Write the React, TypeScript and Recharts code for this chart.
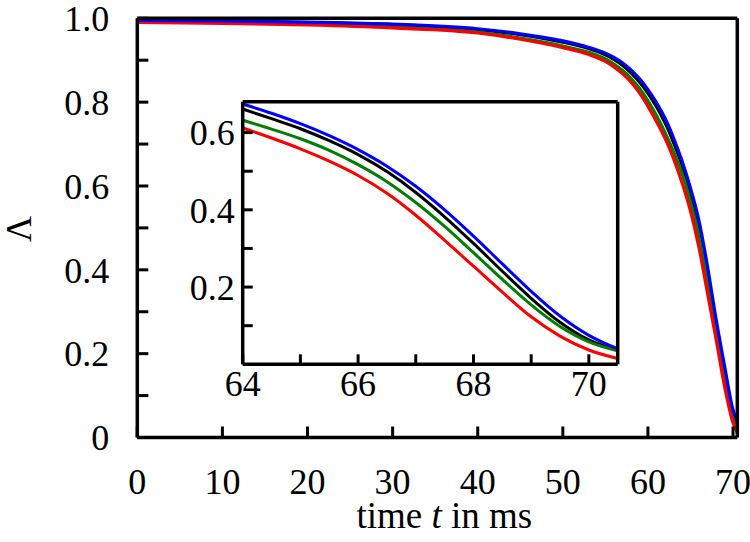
import React from 'react';
import { LineChart, Line, XAxis, YAxis } from 'recharts';

// main panel: time samples in ms and Λ per curve
const times = [0, 10, 20, 30, 40, 45, 50, 53, 55, 56, 57, 58, 59, 60, 61, 62, 63, 64, 65, 66, 67, 68, 69, 70, 70.5];
const blueVals = [0.995, 0.994, 0.991, 0.986, 0.975, 0.963, 0.946, 0.931, 0.917, 0.907, 0.894, 0.877, 0.856, 0.830, 0.799, 0.762, 0.715, 0.660, 0.595, 0.517, 0.408, 0.283, 0.171, 0.066, 0.040];
const blackVals = [0.994, 0.993, 0.990, 0.985, 0.973, 0.961, 0.943, 0.928, 0.913, 0.902, 0.888, 0.870, 0.848, 0.821, 0.789, 0.751, 0.704, 0.650, 0.584, 0.503, 0.395, 0.270, 0.160, 0.060, 0.035];
const greenVals = [0.992, 0.990, 0.986, 0.979, 0.967, 0.953, 0.934, 0.919, 0.903, 0.891, 0.876, 0.857, 0.833, 0.803, 0.768, 0.728, 0.682, 0.630, 0.562, 0.480, 0.370, 0.255, 0.143, 0.050, 0.030];
const redVals = [0.990, 0.988, 0.984, 0.977, 0.965, 0.950, 0.930, 0.914, 0.897, 0.884, 0.868, 0.848, 0.822, 0.790, 0.754, 0.714, 0.666, 0.608, 0.540, 0.453, 0.344, 0.235, 0.122, 0.035, 0.012];

// inset: zoom on the last milliseconds
const insetTimes = [64, 64.5, 65, 65.5, 66, 66.5, 67, 67.5, 68, 68.5, 69, 69.5, 70, 70.5];
const insetBlue = [0.674, 0.650, 0.623, 0.592, 0.556, 0.513, 0.461, 0.400, 0.332, 0.260, 0.189, 0.125, 0.075, 0.040];
const insetBlack = [0.661, 0.636, 0.610, 0.579, 0.543, 0.499, 0.445, 0.382, 0.313, 0.241, 0.171, 0.109, 0.063, 0.036];
const insetGreen = [0.632, 0.609, 0.584, 0.554, 0.517, 0.473, 0.419, 0.357, 0.289, 0.220, 0.154, 0.098, 0.058, 0.035];
const insetRed = [0.612, 0.586, 0.558, 0.526, 0.489, 0.443, 0.386, 0.321, 0.254, 0.187, 0.123, 0.073, 0.037, 0.015];

const xTicks = [0, 10, 20, 30, 40, 50, 60, 70];
const yTicks = [0, 0.1, 0.2, 0.3, 0.4, 0.5, 0.6, 0.7, 0.8, 0.9, 1.0];
const insetXTicks = [64, 65, 66, 67, 68, 69, 70];
const insetYTicks = [0.1, 0.2, 0.3, 0.4, 0.5, 0.6];

const data = times.map((t, i) => ({
  t,
  blue: blueVals[i],
  black: blackVals[i],
  green: greenVals[i],
  red: redVals[i],
}));

const insetData = insetTimes.map((t, i) => ({
  t,
  blue: insetBlue[i],
  black: insetBlack[i],
  green: insetGreen[i],
  red: insetRed[i],
}));

const FONT = '"Liberation Serif", "DejaVu Serif", serif';
const tickFont = { fill: '#000', fontSize: 36, fontFamily: FONT };
const axisLine = { stroke: '#000', strokeWidth: 3.5 };
const tickLine = { stroke: '#000', strokeWidth: 3 };

const evenTenth = (v: number) => Math.round(v * 10) % 2 === 0;
const mainYFmt = (v: number) => (!evenTenth(v) ? '' : v === 0 ? '0' : v.toFixed(1));
const insetYFmt = (v: number) => (evenTenth(v) ? v.toFixed(1) : '');
const insetXFmt = (v: number) => (v % 2 === 0 ? String(v) : '');

const series = [
  { key: 'black', color: '#000000' },
  { key: 'green', color: '#008000' },
  { key: 'red', color: '#ff0000' },
  { key: 'blue', color: '#0000ff' },
];

const W = 750;
const H = 542;

export default function App() {
  return (
    <div style={{ position: 'absolute', left: 0, top: 0, width: W, height: H, background: '#fff' }}>
      <div style={{ position: 'absolute', left: 0, top: 0 }}>
        <LineChart width={W} height={H} data={data} margin={{ top: 17.3, right: 11.7, bottom: 103.5, left: 136.3 }}>
          <XAxis
            xAxisId="b"
            dataKey="t"
            type="number"
            domain={[0, 70.5]}
            ticks={xTicks}
            interval={0}
            allowDataOverflow
            height={1}
            axisLine={axisLine}
            tickLine={tickLine}
            tickSize={-11}
            tickMargin={42}
            tick={tickFont}
            label={{
              content: ({ viewBox }: any) => (
                <text
                  x={viewBox.x + viewBox.width / 2 + 7}
                  y={viewBox.y + 90}
                  textAnchor="middle"
                  fontFamily={FONT}
                  fontSize={37}
                  fill="#000"
                >
                  time <tspan fontStyle="italic">t</tspan> in ms
                </text>
              ),
            }}
          />
          <XAxis
            xAxisId="t"
            orientation="top"
            dataKey="t"
            type="number"
            domain={[0, 70.5]}
            ticks={xTicks}
            interval={0}
            allowDataOverflow
            height={1}
            axisLine={axisLine}
            tickLine={tickLine}
            tickSize={-10}
            tick={false}
          />
          <YAxis
            yAxisId="l"
            type="number"
            domain={[0, 1]}
            ticks={yTicks}
            interval={0}
            width={1}
            axisLine={axisLine}
            tickLine={tickLine}
            tickSize={-11}
            tickMargin={39}
            tick={tickFont}
            tickFormatter={mainYFmt}
            label={{
              content: ({ viewBox }: any) => {
                const cx = viewBox.x - 117;
                const cy = viewBox.y + viewBox.height / 2 + 1;
                return (
                  <text
                    x={cx}
                    y={cy}
                    textAnchor="middle"
                    dominantBaseline="central"
                    transform={`rotate(-90 ${cx} ${cy})`}
                    fontFamily={FONT}
                    fontSize={36}
                    fill="#000"
                  >
                    Λ
                  </text>
                );
              },
            }}
          />
          <YAxis
            yAxisId="r"
            orientation="right"
            type="number"
            domain={[0, 1]}
            ticks={yTicks}
            interval={0}
            width={1}
            axisLine={axisLine}
            tickLine={tickLine}
            tickSize={-11}
            tick={false}
          />
          {series.map((s) => (
            <Line
              key={s.key}
              xAxisId="b"
              yAxisId="l"
              type="monotone"
              dataKey={s.key}
              stroke={s.color}
              strokeWidth={3.2}
              dot={false}
              activeDot={false}
              isAnimationActive={false}
            />
          ))}
        </LineChart>
      </div>
      <div style={{ position: 'absolute', left: 0, top: 0 }}>
        <LineChart width={W} height={H} data={insetData} margin={{ top: 100.7, right: 131.3, bottom: 176.7, left: 241.7 }}>
          <XAxis
            xAxisId="b"
            dataKey="t"
            type="number"
            domain={[64, 70.5]}
            ticks={insetXTicks}
            interval={0}
            allowDataOverflow
            height={1}
            axisLine={axisLine}
            tickLine={tickLine}
            tickSize={-10}
            tickMargin={16}
            tick={tickFont}
            tickFormatter={insetXFmt}
          />
          <XAxis
            xAxisId="t"
            orientation="top"
            dataKey="t"
            type="number"
            domain={[64, 70.5]}
            ticks={insetXTicks}
            interval={0}
            allowDataOverflow
            height={1}
            axisLine={axisLine}
            tickLine={tickLine}
            tickSize={-10}
            tick={false}
          />
          <YAxis
            yAxisId="l"
            type="number"
            domain={[0, 0.68]}
            ticks={insetYTicks}
            interval={0}
            allowDataOverflow
            width={1}
            axisLine={axisLine}
            tickLine={tickLine}
            tickSize={-10}
            tickMargin={18}
            tick={tickFont}
            tickFormatter={insetYFmt}
          />
          <YAxis
            yAxisId="r"
            orientation="right"
            type="number"
            domain={[0, 0.68]}
            ticks={insetYTicks}
            interval={0}
            allowDataOverflow
            width={1}
            axisLine={axisLine}
            tickLine={tickLine}
            tickSize={-10}
            tick={false}
          />
          {series.map((s) => (
            <Line
              key={s.key}
              xAxisId="b"
              yAxisId="l"
              type="monotone"
              dataKey={s.key}
              stroke={s.color}
              strokeWidth={3}
              dot={false}
              activeDot={false}
              isAnimationActive={false}
            />
          ))}
        </LineChart>
      </div>
    </div>
  );
}
